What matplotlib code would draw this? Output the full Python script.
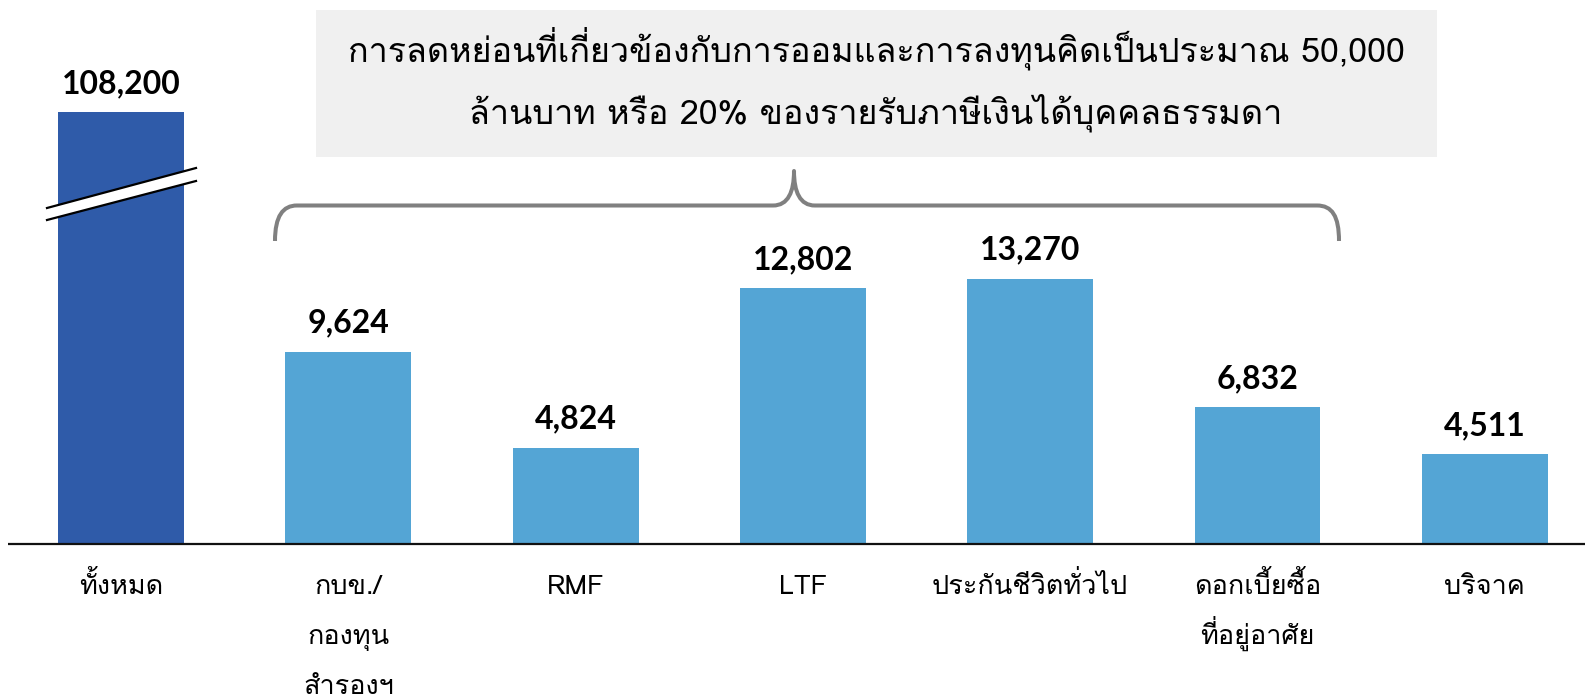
import matplotlib
matplotlib.use("Agg")
import matplotlib.pyplot as plt
from matplotlib.patches import PathPatch, Polygon
from matplotlib.path import Path
import matplotlib.transforms as mtransforms

# ---------------- data ----------------
categories = ['ทั้งหมด', 'กบข./\nกองทุน\nสำรองฯ', 'RMF', 'LTF',
              'ประกันชีวิตทั่วไป', 'ดอกเบี้ยซื้อ\nที่อยู่อาศัย', 'บริจาค']
values = [108200, 9624, 4824, 12802, 13270, 6832, 4511]
value_labels = ['108,200', '9,624', '4,824', '12,802', '13,270', '6,832', '4,511']
note_lines = ['การลดหย่อนที่เกี่ยวข้องกับการออมและการลงทุนคิดเป็นประมาณ 50,000',
              'ล้านบาท หรือ 20% ของรายรับภาษีเงินได้บุคคลธรรมดา']
break_cap = 21600   # displayed height of the broken (total) bar

# ---------------- Thai mark positioning (legacy PUA glyphs, no shaping engine) ----
TALL = set('ปฝฟฬ')
UPPER_LEFT = {'\u0e31': '\uf710', '\u0e34': '\uf701', '\u0e35': '\uf702',
              '\u0e36': '\uf703', '\u0e37': '\uf704', '\u0e47': '\uf712',
              '\u0e4d': '\uf711'}
TONES = '\u0e48\u0e49\u0e4a\u0e4b\u0e4c'
TONE_LOW = {t: chr(0xF70A + i) for i, t in enumerate(TONES)}
TONE_LOWLEFT = {t: chr(0xF705 + i) for i, t in enumerate(TONES)}
TONE_LEFT = {t: chr(0xF713 + i) for i, t in enumerate(TONES)}


def thai(s):
    out = []
    base = ''
    prev = ''
    for ch in s:
        o = ch
        if ch in UPPER_LEFT:
            if base in TALL:
                o = UPPER_LEFT[ch]
        elif ch in TONE_LOW:
            has_upper = prev in UPPER_LEFT
            if base in TALL:
                o = TONE_LEFT[ch] if has_upper else TONE_LOWLEFT[ch]
            else:
                o = ch if has_upper else TONE_LOW[ch]
        elif '\u0e01' <= ch <= '\u0e2e':
            base = ch
        else:
            if not ('\u0e30' <= ch <= '\u0e4e'):
                base = ''
        out.append(o)
        prev = ch
    return ''.join(out)


# ---------------- style ----------------
W, H = 1585, 697
THAI = ['Loma', 'DejaVu Sans']
NUM = ['Lato', 'DejaVu Sans']
c_total = '#2F5BA9'
c_other = '#54A5D5'

fig = plt.figure(figsize=(W / 100, H / 100), dpi=100)
renderer = fig.canvas.get_renderer()
ax = fig.add_axes([0, 153 / H, 1, 544 / H])
px = mtransforms.Affine2D().scale(1 / W, -1 / H).translate(0, 1) + fig.transFigure


def fit_size(text, family, target_px, weight='normal'):
    t = fig.text(0, 0, text, family=family, fontsize=20, fontweight=weight)
    w = t.get_window_extent(renderer).width
    t.remove()
    return 20 * target_px / w


xs = list(range(len(values)))
disp = [min(v, break_cap) for v in values]
colors = [c_total] + [c_other] * (len(values) - 1)
ax.bar(xs, disp, width=0.554, color=colors, zorder=2)

ax.set_xlim(-121 / 227.3, (W - 121) / 227.3)
ax.set_ylim(0, 27200)
for s in ax.spines.values():
    s.set_visible(False)
ax.set_yticks([])
ax.set_xticks([])

# baseline
ax.plot([8 / W, 1], [0, 0], transform=ax.transAxes,
        color='#111111', lw=1.6, zorder=3, clip_on=False, solid_capstyle='butt')

# category labels (one text per line)
cat_size = fit_size(thai('ประกันชีวิตทั่วไป'), THAI, 196)
lab_tr = mtransforms.blended_transform_factory(ax.transData, px)
for x, cat in zip(xs, categories):
    for k, line in enumerate(cat.split('\n')):
        ax.text(x, 594 + 50 * k, thai(line), transform=lab_tr, ha='center',
                va='baseline', family=THAI, fontsize=cat_size, color='black',
                clip_on=False)

# value labels
for x, d, lab in zip(xs, disp, value_labels):
    ax.annotate(lab, (x, d), xytext=(0, 10), textcoords='offset points',
                ha='center', va='bottom', family=NUM, fontweight='bold',
                fontsize=23, color='black')

# break mark on the total bar
poly = Polygon([(47, 208), (196, 168), (196, 181), (47, 220)], closed=True,
               transform=px, facecolor='white', edgecolor='none', zorder=4)
fig.add_artist(poly)
for (x0, y0, x1, y1) in [(47, 208, 196, 168), (47, 220, 196, 181)]:
    fig.add_artist(plt.Line2D([x0, x1], [y0, y1], transform=px, color='black',
                              lw=1.6, zorder=5))

# note box
fig.add_artist(plt.Rectangle((316, 157), 1437 - 316, -147, transform=px,
                             facecolor='#F0F0F0', edgecolor='none', zorder=1))
note_size = fit_size(thai(note_lines[0]), THAI, 1058)
for txt, yb in zip(note_lines, [62, 124]):
    fig.text(876 / W, 1 - yb / H, thai(txt), ha='center', va='baseline',
             family=THAI, fontsize=note_size, color='black', zorder=6)

# brace
verts = [(275, 241), (275, 216), (283, 205.5), (297, 205.5),
         (773, 205.5),
         (788, 205.5), (794, 192), (794, 171),
         (794, 192), (800, 205.5), (815, 205.5),
         (1317, 205.5),
         (1332, 205.5), (1339, 216), (1339, 241)]
codes = [Path.MOVETO, Path.CURVE4, Path.CURVE4, Path.CURVE4,
         Path.LINETO,
         Path.CURVE4, Path.CURVE4, Path.CURVE4,
         Path.CURVE4, Path.CURVE4, Path.CURVE4,
         Path.LINETO,
         Path.CURVE4, Path.CURVE4, Path.CURVE4]
fig.add_artist(PathPatch(Path(verts, codes), transform=px, facecolor='none',
                         edgecolor='#808080', lw=2.9, capstyle='butt',
                         joinstyle='round'))

fig.savefig('out.png', dpi=100)
